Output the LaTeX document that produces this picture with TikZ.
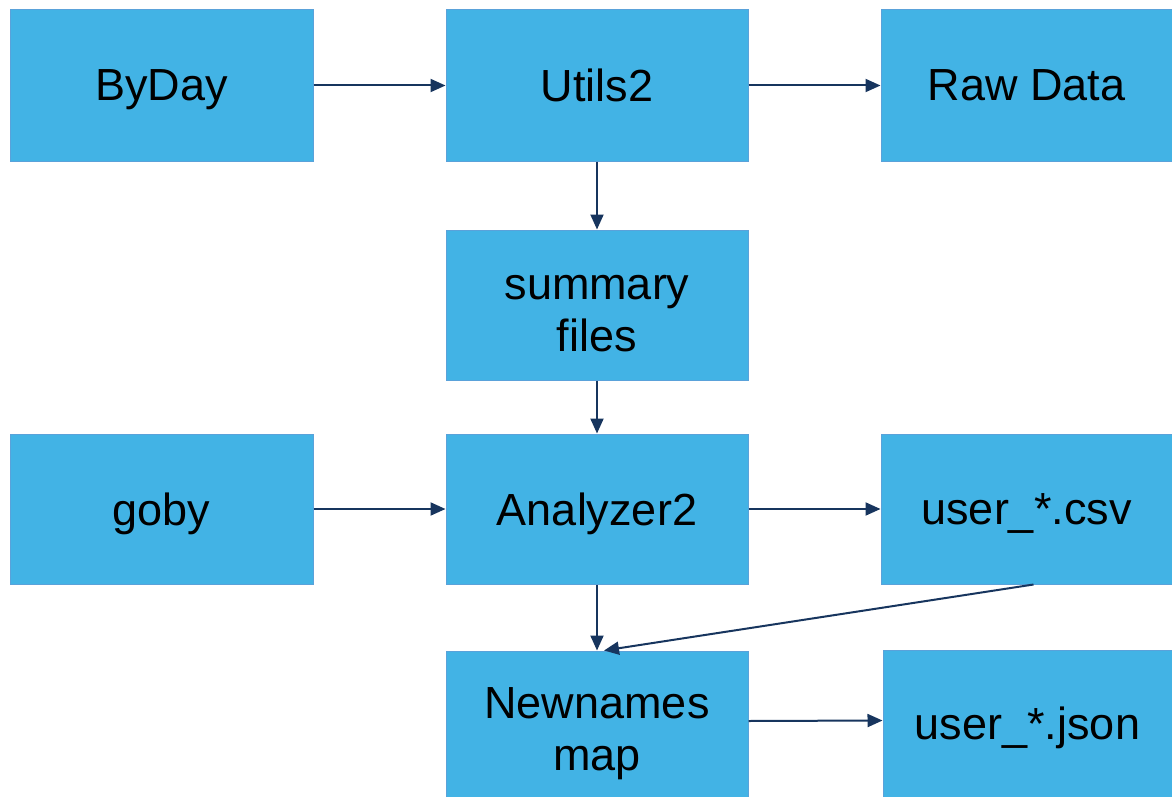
\documentclass[tikz,border=0pt]{standalone}
\usepackage{fontspec}
\setmainfont{Liberation Sans}
\usetikzlibrary{arrows.meta,calc}
\definecolor{boxfill}{HTML}{42B3E5}
\definecolor{boxline}{HTML}{5AA2DA}
\definecolor{arrowcol}{HTML}{17355E}
\newcommand\twolines[2]{\begin{tabular}[b]{@{}c@{}}#1\\#2\end{tabular}}
\begin{document}
\begin{tikzpicture}[x=1pt,y=-1pt,
  box/.style={rectangle,fill=boxfill,draw=boxline,line width=1pt,inner sep=0pt,
    font=\fontsize{45}{52}\selectfont,text=black,text depth=0pt},
  twoline/.style={text height=92pt,text depth=0pt},
  conn/.style={draw=arrowcol,line width=2pt,-{Triangle[length=15pt,width=13pt]}}]
\useasboundingbox (0,0) rectangle (1172,797);
\node[box,minimum width=303pt,minimum height=151pt] (byday) at (161.5,85.5) {ByDay};
\node[box,minimum width=302pt,minimum height=151pt] (utils) at (597,85.5) {Utils2};
\node[box,minimum width=291pt,minimum height=151pt] (raw) at (1026.5,85.5) {Raw Data};
\node[box,twoline,minimum width=302pt,minimum height=150pt] (summary) at (597,305) {\twolines{summary}{files}};
\node[box,minimum width=303pt,minimum height=150pt] (goby) at (161.5,509) {goby};
\node[box,minimum width=302pt,minimum height=150pt] (analyzer) at (597,509) {Analyzer2};
\node[box,minimum width=291pt,minimum height=150pt] (csv) at (1026.5,509) {user\_*.csv};
\node[box,twoline,minimum width=302pt,minimum height=146pt] (newnames) at (597,724) {\twolines{Newnames}{map}};
\node[box,minimum width=289pt,minimum height=147pt] (json) at (1027.5,723.5) {user\_*.json};
\draw[conn] (byday.east) -- (utils.west);
\draw[conn] (utils.east) -- (raw.west);
\draw[conn] (utils.south) -- (summary.north);
\draw[conn] (summary.south) -- (analyzer.north);
\draw[conn] (goby.east) -- (analyzer.west);
\draw[conn] (analyzer.east) -- (csv.west);
\draw[conn] (analyzer.south) -- (newnames.north);
\draw[conn] ([xshift=7pt]csv.south) -- ([xshift=7pt]newnames.north);
\draw[conn] ([yshift=3pt]newnames.east) -- ([yshift=3pt]json.west);
\end{tikzpicture}
\end{document}
